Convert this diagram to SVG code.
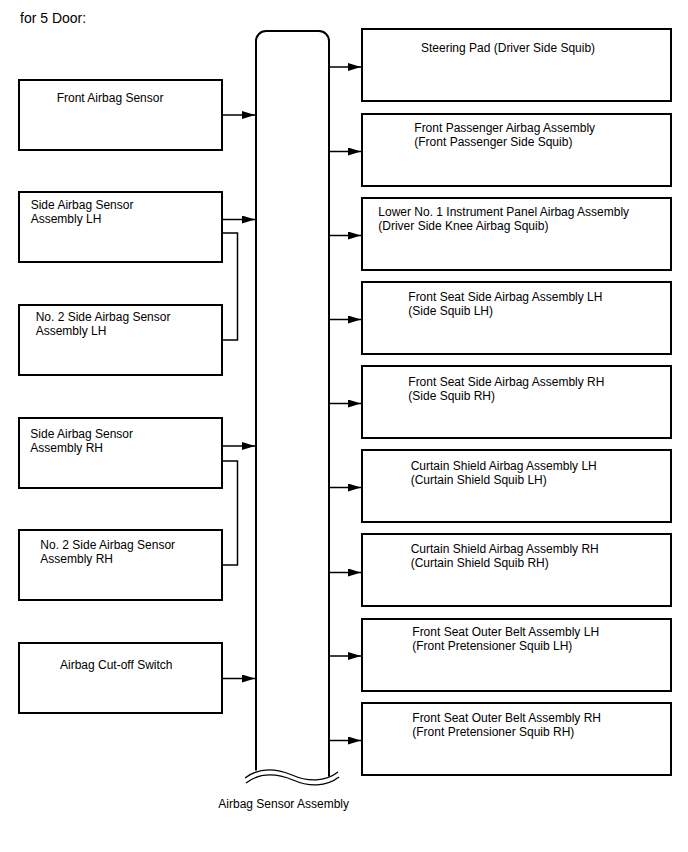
<svg xmlns="http://www.w3.org/2000/svg" width="688" height="852" viewBox="0 0 688 852">
<style>
text{font-family:"Liberation Sans",Arial,sans-serif;font-size:12px;fill:#000}
.box{fill:#fff;stroke:#000;stroke-width:2}
.bus{fill:none;stroke:#000;stroke-width:2}
.arr{fill:none;stroke:#000;stroke-width:1.5;marker-end:url(#ah)}
.br{fill:none;stroke:#000;stroke-width:1.5}
.wave{fill:none;stroke:#000;stroke-width:1.3}
</style>
<defs>
<marker id="ah" markerUnits="userSpaceOnUse" markerWidth="13" markerHeight="8" refX="13" refY="4" orient="auto">
<path d="M0,0 L13,4 L0,8 Z" fill="#000"/>
</marker>
</defs>
<rect width="688" height="852" fill="#fff"/>
<text x="20" y="22.7" style="font-size:14px">for 5 Door:</text>

<g id="airbag-sensor-assembly">
<path class="bus" d="M256,770.5 V41 A10,10 0 0 1 266,31 H319 A10,10 0 0 1 329,41 V776.5"/>
<path class="wave" d="M245,778 C258,768 275,768 292,775 C308,782 325,782 338,772"/>
<path class="wave" d="M246,783 C259,773 276,773 293,780 C309,787 326,787 339,777"/>
<text x="218.3" y="808">Airbag Sensor Assembly</text>
</g>

<g id="front-airbag-sensor">
<rect class="box" x="19" y="80" width="203" height="70"/>
<text x="56.7" y="101.7">Front Airbag Sensor</text>
</g>
<g id="side-airbag-sensor-lh">
<rect class="box" x="19" y="192" width="203" height="70"/>
<text x="30.7" y="209.3">Side Airbag Sensor</text>
<text x="30.7" y="223.3">Assembly LH</text>
</g>
<g id="no2-side-airbag-sensor-lh">
<rect class="box" x="19" y="305" width="203" height="70"/>
<text x="35.7" y="320.7">No. 2 Side Airbag Sensor</text>
<text x="35.7" y="334.7">Assembly LH</text>
</g>
<g id="side-airbag-sensor-rh">
<rect class="box" x="19" y="418" width="203" height="70"/>
<text x="30.3" y="437.7">Side Airbag Sensor</text>
<text x="30.3" y="451.7">Assembly RH</text>
</g>
<g id="no2-side-airbag-sensor-rh">
<rect class="box" x="19" y="530" width="203" height="70"/>
<text x="40.3" y="549">No. 2 Side Airbag Sensor</text>
<text x="40.3" y="563">Assembly RH</text>
</g>
<g id="airbag-cutoff-switch">
<rect class="box" x="19" y="643" width="203" height="70"/>
<text x="60" y="669.3">Airbag Cut-off Switch</text>
</g>

<g id="steering-pad">
<rect class="box" x="362" y="29" width="309" height="72"/>
<text x="421" y="52.3">Steering Pad (Driver Side Squib)</text>
</g>
<g id="front-passenger-airbag">
<rect class="box" x="362" y="114" width="309" height="72"/>
<text x="414.3" y="131.7">Front Passenger Airbag Assembly</text>
<text x="414.3" y="145.5">(Front Passenger Side Squib)</text>
</g>
<g id="lower-no1-instrument-panel-airbag">
<rect class="box" x="362" y="198" width="309" height="72"/>
<text x="378.3" y="216">Lower No. 1 Instrument Panel Airbag Assembly</text>
<text x="378.3" y="230">(Driver Side Knee Airbag Squib)</text>
</g>
<g id="front-seat-side-airbag-lh">
<rect class="box" x="362" y="282" width="309" height="72"/>
<text x="408.3" y="300.7">Front Seat Side Airbag Assembly LH</text>
<text x="408.3" y="314.7">(Side Squib LH)</text>
</g>
<g id="front-seat-side-airbag-rh">
<rect class="box" x="362" y="366" width="309" height="72"/>
<text x="408.3" y="386">Front Seat Side Airbag Assembly RH</text>
<text x="408.3" y="400">(Side Squib RH)</text>
</g>
<g id="curtain-shield-airbag-lh">
<rect class="box" x="362" y="450" width="309" height="72"/>
<text x="410.7" y="470">Curtain Shield Airbag Assembly LH</text>
<text x="410.7" y="484">(Curtain Shield Squib LH)</text>
</g>
<g id="curtain-shield-airbag-rh">
<rect class="box" x="362" y="534" width="309" height="72"/>
<text x="410.7" y="553.3">Curtain Shield Airbag Assembly RH</text>
<text x="410.7" y="567.3">(Curtain Shield Squib RH)</text>
</g>
<g id="front-seat-outer-belt-lh">
<rect class="box" x="362" y="619" width="309" height="72"/>
<text x="412.3" y="636">Front Seat Outer Belt Assembly LH</text>
<text x="412.3" y="650">(Front Pretensioner Squib LH)</text>
</g>
<g id="front-seat-outer-belt-rh">
<rect class="box" x="362" y="703" width="309" height="72"/>
<text x="412.3" y="722">Front Seat Outer Belt Assembly RH</text>
<text x="412.3" y="736">(Front Pretensioner Squib RH)</text>
</g>

<g id="connectors">
<path class="arr" d="M222,115 H255"/>
<path class="arr" d="M222,219.5 H255"/>
<path class="arr" d="M222,446 H255"/>
<path class="arr" d="M222,678.5 H255"/>
<path class="br" d="M222,233 H237.5 V340 H222"/>
<path class="br" d="M222,461 H237.5 V565 H222"/>
<path class="arr" d="M330,67 H361"/>
<path class="arr" d="M330,151.5 H361"/>
<path class="arr" d="M330,235.5 H361"/>
<path class="arr" d="M330,319.5 H361"/>
<path class="arr" d="M330,403.5 H361"/>
<path class="arr" d="M330,487.5 H361"/>
<path class="arr" d="M330,572.5 H361"/>
<path class="arr" d="M330,656 H361"/>
<path class="arr" d="M330,740.5 H361"/>
</g>
</svg>
